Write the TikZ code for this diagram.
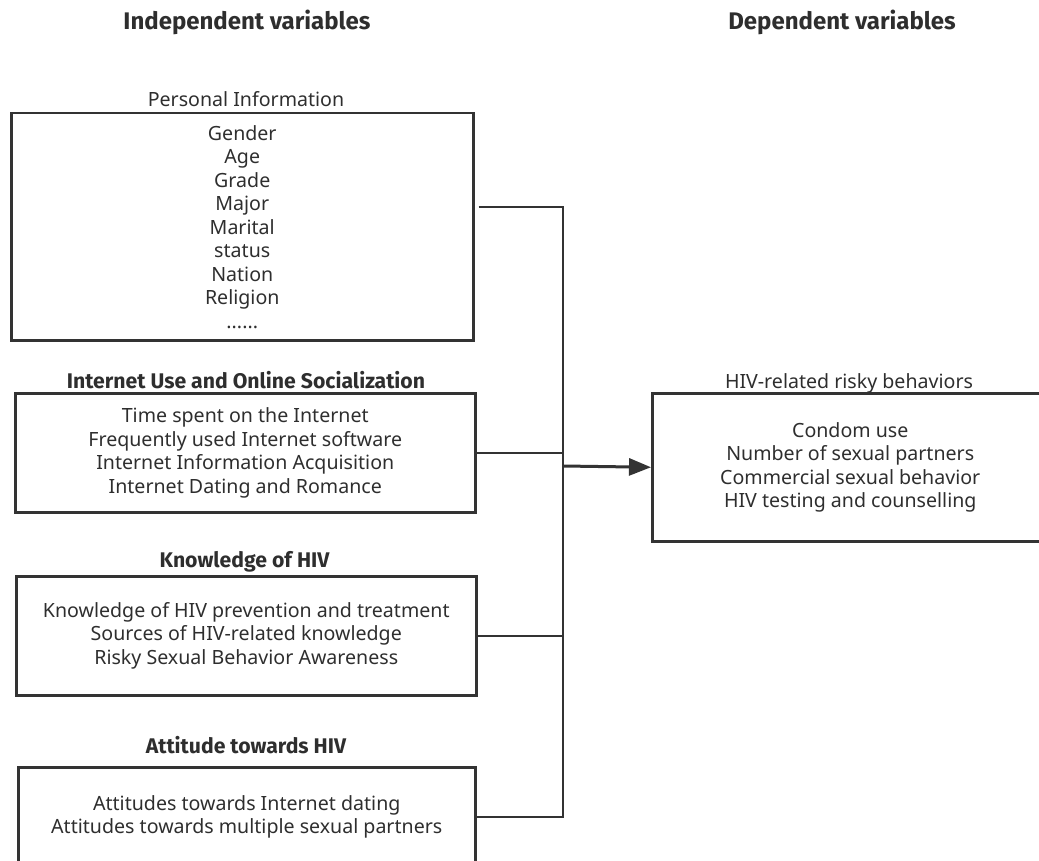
\documentclass[tikz,border=0pt]{standalone}
\usepackage{fontspec}
\setmainfont{Noto Sans}
\newfontfamily\titlefont{Fira Sans}
\usetikzlibrary{arrows.meta}
\definecolor{ink}{HTML}{333333}
\definecolor{txt}{HTML}{2E2E2E}
\begin{document}
\begin{tikzpicture}[x=1pt,y=-1pt,
  box/.style={draw=ink, line width=2.5pt, anchor=north west, inner sep=0pt,
    align=center, text=txt, font=\fontsize{19.6}{23.5}\selectfont},
  lab/.style={anchor=base, inner sep=0pt, text=txt, font=\fontsize{19.6}{22}\selectfont},
  blab/.style={anchor=base, inner sep=0pt, text=txt, font=\titlefont\bfseries\fontsize{21.2}{24}\selectfont},
  ttl/.style={anchor=base, inner sep=0pt, text=txt, font=\titlefont\bfseries\fontsize{24}{28}\selectfont},
  link/.style={draw=ink, line width=2pt},
  arr/.style={draw=ink, line width=3pt, -{Triangle[length=22pt,width=17pt]}}
]
\useasboundingbox (0,0) rectangle (1039,861);

% titles
\node[ttl] (tin) at (247,30) {Independent variables};
\node[ttl] (tdep) at (842,30) {Dependent variables};

% box 1
\node[lab] (l1) at (246,107) {Personal Information};
\node[box, minimum width=462pt, minimum height=227pt] (b1) at (10,112)
  {Gender\\Age\\Grade\\Major\\Marital\\status\\Nation\\Religion\\......};

% box 2
\node[blab] (l2) at (246,388) {Internet Use and Online Socialization};
\node[box, minimum width=460pt, minimum height=119pt] (b2) at (14,392)
  {Time spent on the Internet\\Frequently used Internet software\\Internet Information Acquisition\\Internet Dating and Romance};

% box 3
\node[blab] (l3) at (244.5,567) {Knowledge of HIV};
\node[box, minimum width=460pt, minimum height=119pt] (b3) at (15,575)
  {Knowledge of HIV prevention and treatment\\Sources of HIV-related knowledge\\Risky Sexual Behavior Awareness};

% box 4
\node[blab] (l4) at (246,753) {Attitude towards HIV};
\node[box, minimum width=457pt, minimum height=99pt] (b4) at (17,766)
  {Attitudes towards Internet dating\\Attitudes towards multiple sexual partners};

% right box
\node[lab] (lr) at (849,388) {HIV-related risky behaviors};
\node[box, minimum width=396pt, minimum height=148pt] (r) at (651,392)
  {Condom use\\Number of sexual partners\\Commercial sexual behavior\\HIV testing and counselling};

% connectors
\coordinate (hub) at (563,466);
\draw[link] ([xshift=4pt,yshift=20pt]b1.east) -| (hub);
\draw[link] (b4.east) -| (hub);
\draw[link] (b2.east) -- (b2.east -| hub);
\draw[link] (b3.east) -- (b3.east -| hub);
\draw[arr] (hub) -- (r.west);
\end{tikzpicture}
\end{document}
